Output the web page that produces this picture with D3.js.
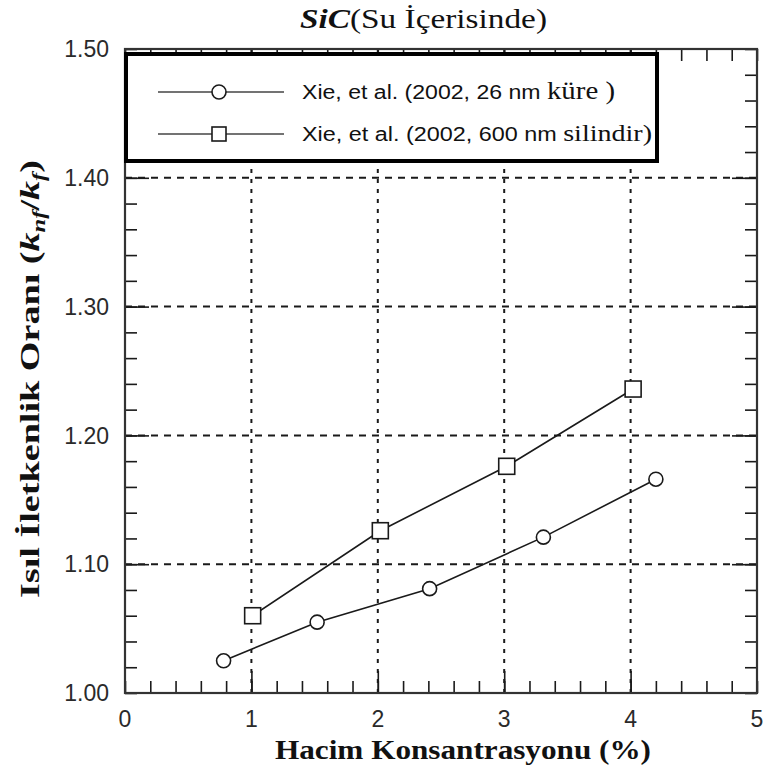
<!DOCTYPE html>
<html><head><meta charset="utf-8">
<script src="https://cdn.jsdelivr.net/npm/d3@7"></script>
<style>body{margin:0;background:#fff}svg{display:block}</style>
</head><body>
<svg id="c" width="767" height="776"></svg>
<script>
// ---- data ----
const sphereX = [0.78, 1.52, 2.41, 3.31, 4.20];
const sphereY = [1.025, 1.055, 1.081, 1.121, 1.166];
const cylX = [1.01, 2.02, 3.02, 4.02];
const cylY = [1.060, 1.126, 1.176, 1.236];
const xTicks = [0, 1, 2, 3, 4, 5];
const yTicks = [1.00, 1.10, 1.20, 1.30, 1.40, 1.50];
const xTickLabels = ["0", "1", "2", "3", "4", "5"];
const yTickLabels = ["1.00", "1.10", "1.20", "1.30", "1.40", "1.50"];
const legendMain = ["Xie, et al. (2002, 26 nm ", "Xie, et al. (2002, 600 nm "];
const legendSerif = ["küre )", "silindir)"];

const svg = d3.select("#c");
const x = d3.scaleLinear().domain([0, 5]).range([125, 757]);
const y = d3.scaleLinear().domain([1.0, 1.5]).range([693, 49]);
const ink = "#1a1a1a";
const SANS = "Liberation Sans, Arial, sans-serif";
const SERIF = "Liberation Serif, Times New Roman, serif";

function fit(sel, w) {
  sel.attr("textLength", w).attr("lengthAdjust", "spacingAndGlyphs");
}

// gridlines
const gx = [1, 2, 3, 4], gy = [1.1, 1.2, 1.3, 1.4];
svg.append("g").selectAll("line").data(gx).join("line")
  .attr("x1", d => x(d)).attr("x2", d => x(d))
  .attr("y1", y(1.0)).attr("y2", y(1.5))
  .attr("stroke", ink).attr("stroke-width", 2).attr("stroke-dasharray", "4,6");
svg.append("g").selectAll("line").data(gy).join("line")
  .attr("x1", x(0)).attr("x2", x(5))
  .attr("y1", d => y(d)).attr("y2", d => y(d))
  .attr("stroke", ink).attr("stroke-width", 2).attr("stroke-dasharray", "7,6");

// ticks via axes (inward)
const xMinor = d3.range(0, 5.001, 0.2).map(v => +v.toFixed(1));
const yMinor = d3.range(1.0, 1.501, 0.02).map(v => +v.toFixed(2));
function tickStyle(g){ g.select(".domain").remove(); g.selectAll("line").attr("stroke", ink).attr("stroke-width", 1.6); g.selectAll("text").remove(); }
svg.append("g").attr("transform", `translate(0,${y(1.0)})`)
  .call(d3.axisBottom(x).tickValues(xMinor).tickSize(-12)).call(tickStyle);
svg.append("g").attr("transform", `translate(0,${y(1.0)})`)
  .call(d3.axisBottom(x).tickValues(gx).tickSize(-22)).call(tickStyle);
svg.append("g").attr("transform", `translate(0,${y(1.5)})`)
  .call(d3.axisTop(x).tickValues(xMinor).tickSize(-12)).call(tickStyle);
svg.append("g").attr("transform", `translate(${x(0)},0)`)
  .call(d3.axisLeft(y).tickValues(yMinor).tickSize(-12)).call(tickStyle);
svg.append("g").attr("transform", `translate(${x(0)},0)`)
  .call(d3.axisLeft(y).tickValues(gy).tickSize(-24)).call(tickStyle);
svg.append("g").attr("transform", `translate(${x(5)},0)`)
  .call(d3.axisRight(y).tickValues(yMinor).tickSize(-12)).call(tickStyle);
svg.append("g").attr("transform", `translate(${x(5)},0)`)
  .call(d3.axisRight(y).tickValues(gy).tickSize(-25)).call(tickStyle);

// frame
svg.append("rect").attr("x", x(0)).attr("y", y(1.5))
  .attr("width", x(5) - x(0)).attr("height", y(1.0) - y(1.5))
  .attr("fill", "none").attr("stroke", "#333").attr("stroke-width", 2.2);

// tick labels
svg.append("g").selectAll("text").data(xTicks).join("text")
  .attr("x", d => x(d)).attr("y", 727).attr("text-anchor", "middle")
  .attr("font-family", SANS).attr("font-size", 23).attr("fill", "#2a2a2a")
  .text((d, i) => xTickLabels[i]);
svg.append("g").selectAll("text").data(yTicks).join("text")
  .attr("x", 109).attr("y", d => y(d)).attr("dy", "0.36em").attr("text-anchor", "end")
  .attr("font-family", SANS).attr("font-size", 23).attr("fill", "#2a2a2a")
  .text((d, i) => yTickLabels[i]);

// series
const line = d3.line().x(d => x(d[0])).y(d => y(d[1]));
const sph = sphereX.map((v, i) => [v, sphereY[i]]);
const cyl = cylX.map((v, i) => [v, cylY[i]]);
svg.append("path").attr("d", line(sph)).attr("fill", "none").attr("stroke", ink).attr("stroke-width", 1.6);
svg.append("path").attr("d", line(cyl)).attr("fill", "none").attr("stroke", ink).attr("stroke-width", 1.6);
svg.append("g").selectAll("circle").data(sph).join("circle")
  .attr("cx", d => x(d[0])).attr("cy", d => y(d[1])).attr("r", 7)
  .attr("fill", "#fff").attr("stroke", ink).attr("stroke-width", 1.6);
svg.append("g").selectAll("rect").data(cyl).join("rect")
  .attr("x", d => x(d[0]) - 8).attr("y", d => y(d[1]) - 8).attr("width", 16).attr("height", 16)
  .attr("fill", "#fff").attr("stroke", ink).attr("stroke-width", 1.6);

// legend
const lg = svg.append("g");
lg.append("rect").attr("x", 126).attr("y", 54).attr("width", 531).attr("height", 107)
  .attr("fill", "#fff").attr("stroke", "#000").attr("stroke-width", 4);
const rowsY = [92, 134];
const rowsW = [313, 350];
rowsY.forEach((ry, i) => {
  lg.append("line").attr("x1", 158).attr("x2", 284).attr("y1", ry).attr("y2", ry)
    .attr("stroke", "#444").attr("stroke-width", 1.5);
  if (i === 0) lg.append("circle").attr("cx", 219).attr("cy", ry).attr("r", 7)
    .attr("fill", "#fff").attr("stroke", ink).attr("stroke-width", 1.6);
  else lg.append("rect").attr("x", 212).attr("y", ry - 7).attr("width", 14).attr("height", 14)
    .attr("fill", "#fff").attr("stroke", ink).attr("stroke-width", 1.6);
  const t = lg.append("text").attr("x", 302).attr("y", ry + 7).attr("fill", "#111")
    .attr("style", "white-space:pre");
  t.append("tspan").attr("font-family", SANS).attr("font-size", 20).text(legendMain[i]);
  t.append("tspan").attr("font-family", SERIF).attr("font-size", i === 0 ? 25 : 24).text(legendSerif[i]);
  fit(t, rowsW[i]);
});

// title
const tt = svg.append("text").attr("x", 300).attr("y", 28)
  .attr("font-family", SERIF).attr("font-size", 27).attr("fill", "#111");
tt.append("tspan").attr("font-style", "italic").attr("font-weight", "bold").text("SiC");
tt.append("tspan").text("(Su İçerisinde)");
fit(tt, 247);

// x axis label
const xl = svg.append("text").attr("x", 275).attr("y", 759)
  .attr("font-family", SERIF).attr("font-size", 28).attr("font-weight", "bold")
  .attr("fill", "#111").text("Hacim Konsantrasyonu (%)");
fit(xl, 376);

// y axis label
const yl = svg.append("text").attr("transform", "translate(39,598) rotate(-90)")
  .attr("font-family", SERIF).attr("font-size", 28).attr("font-weight", "bold")
  .attr("fill", "#111");
yl.append("tspan").text("Isıl İletkenlik Oranı (");
yl.append("tspan").attr("font-style", "italic").text("k");
yl.append("tspan").attr("font-style", "italic").attr("font-size", 18).attr("dy", 6).text("nf");
yl.append("tspan").attr("dy", -6).text("/");
yl.append("tspan").attr("font-style", "italic").text("k");
yl.append("tspan").attr("font-style", "italic").attr("font-size", 18).attr("dy", 6).text("f");
yl.append("tspan").attr("dy", -6).text(")");
fit(yl, 438);
</script>
</body></html>
